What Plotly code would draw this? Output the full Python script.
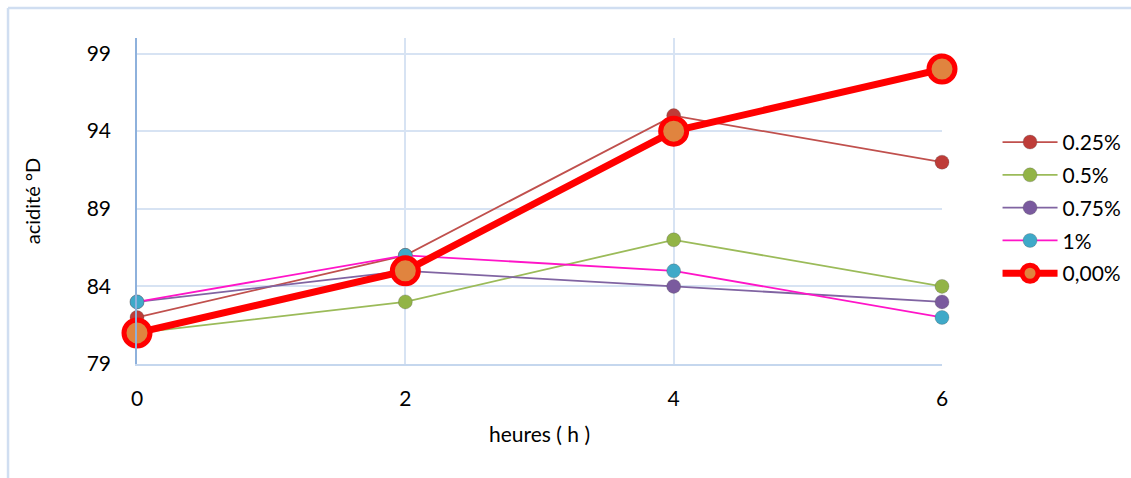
import plotly.graph_objects as go

# Acidity (°D) measured over time for each concentration
heures = [0, 2, 4, 6]
series_names = ["0.25%", "0.5%", "0.75%", "1%", "0,00%"]
acid_025 = [82, 86, 95, 92]
acid_05 = [81, 83, 87, 84]
acid_075 = [83, 85, 84, 83]
acid_1 = [83, 86, 85, 82]
acid_0 = [81, 85, 94, 98]
y_ticks = [79, 84, 89, 94, 99]

FONT = "Lato, 'Open Sans', sans-serif"
GRID = "#D7E3F3"

fig = go.Figure()

thin_styles = [
    (acid_025, "#C0504D", "#BE3C38"),
    (acid_05, "#9BBB59", "#92B446"),
    (acid_075, "#8064A2", "#7A5A9E"),
    (acid_1, "#FF14C8", "#3FA9C8"),
]
for name, (vals, line_c, mark_c) in zip(series_names[:4], thin_styles):
    fig.add_trace(go.Scatter(
        x=heures, y=vals, name=name, mode="lines+markers",
        line=dict(color=line_c, width=1.8), cliponaxis=False,
        legendgroup=name,
        marker=dict(size=14, color=mark_c,
                    line=dict(width=0.8, color="rgba(80,80,80,0.35)")),
    ))

fig.add_trace(go.Scatter(
    x=heures, y=acid_0, name=series_names[4], mode="lines+markers",
    line=dict(color="#FF0000", width=7), cliponaxis=False,
    legendgroup=series_names[4],
    marker=dict(size=26, color="#E0843F", line=dict(width=5, color="#FF0000")),
))

fig.update_layout(
    width=1131, height=478,
    margin=dict(l=137, r=189, t=38, b=114, autoexpand=False),
    paper_bgcolor="white", plot_bgcolor="white",
    font=dict(family=FONT, color="#000000"),
    showlegend=True,
    legend=dict(xref="container", yref="container", x=0.882, y=0.745,
                xanchor="left", yanchor="top",
                font=dict(size=21, family=FONT), bgcolor="rgba(0,0,0,0)",
                itemsizing="trace", tracegroupgap=2.5, itemwidth=55),
    xaxis=dict(
        range=[0, 6], tickvals=heures, ticktext=[str(h) for h in heures],
        showgrid=True, gridcolor=GRID, gridwidth=1.5,
        showline=True, linecolor="#C5D7EE", linewidth=1.5,
        zeroline=False, ticks="", tickfont=dict(size=21),
        ticklabelstandoff=15,
        title=dict(text="heures ( h )", font=dict(size=21), standoff=18),
    ),
    yaxis=dict(
        range=[79, 100], tickvals=y_ticks, ticktext=[str(v) for v in y_ticks],
        showgrid=True, gridcolor=GRID, gridwidth=1.5,
        showline=True, linecolor="#8EB1DC", linewidth=1.5,
        zeroline=False, ticks="", tickfont=dict(size=21),
        ticklabelstandoff=20,
        title=dict(text="acidité °D", font=dict(size=20), standoff=41),
    ),
    shapes=[
        dict(type="line", xref="paper", yref="paper",
             x0=-0.1602, x1=1.3, y0=1.092, y1=1.092,
             line=dict(color="#D0DEF1", width=2.5)),
        dict(type="line", xref="paper", yref="paper",
             x0=-0.1602, x1=-0.1602, y0=1.092, y1=-0.4,
             line=dict(color="#D0DEF1", width=2.5)),
    ],
)

fig.write_html("out.html")
